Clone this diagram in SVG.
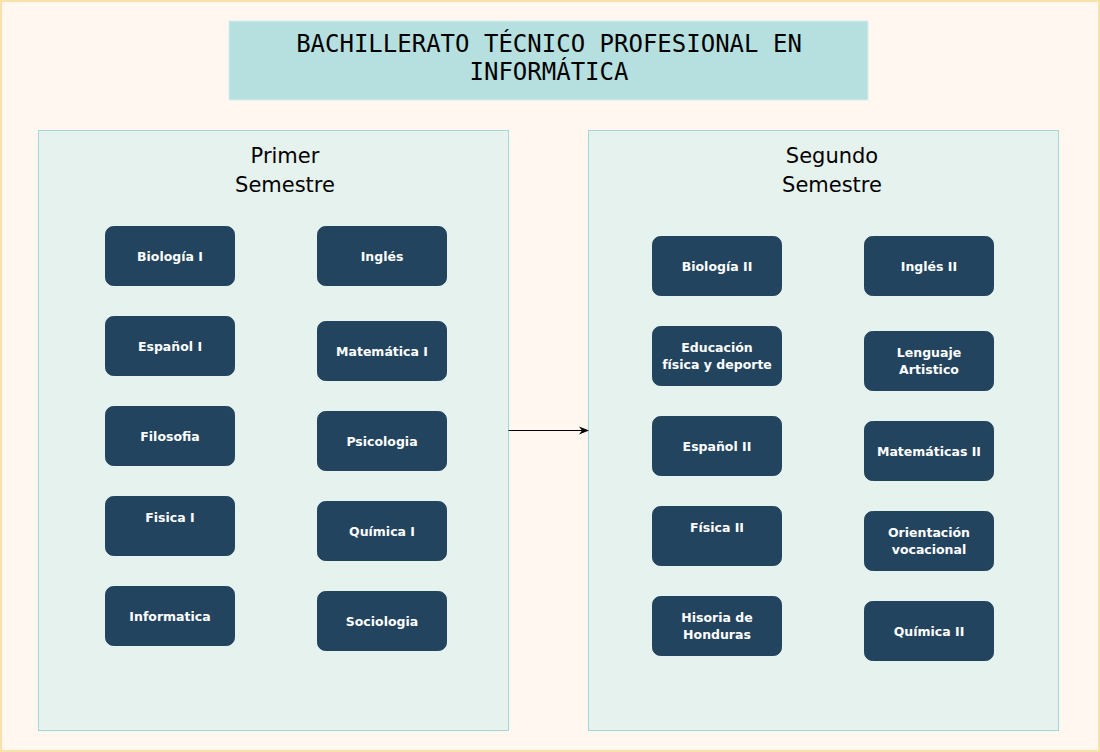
<svg xmlns="http://www.w3.org/2000/svg" width="1100" height="752" viewBox="0 0 1100 752">
<defs>
<style>
.bg{fill:#FFF7F0;stroke:#F9E2A8;stroke-width:2}
.title{fill:#B6E0DF;stroke:#D6EEEC;stroke-width:1}
.ttl{font-family:"DejaVu Sans Mono",monospace;font-size:24px;fill:#000;text-anchor:middle}
.panel{fill:#E6F2EE;stroke:#A8D5D5;stroke-width:1}
.ph{font-family:"DejaVu Sans","Noto Sans",sans-serif;font-size:21px;fill:#000;text-anchor:middle}
.node rect{fill:#23445E;stroke:#23445E}
.node text{font-family:"DejaVu Sans","Noto Sans",sans-serif;font-size:12.5px;font-weight:bold;fill:#fff;text-anchor:middle}
</style>
<marker id="arr" viewBox="0 0 10 10" refX="9" refY="5" markerWidth="10" markerHeight="10" orient="auto" markerUnits="userSpaceOnUse">
<path d="M0,1 L10,5 L0,9 L3,5 Z" fill="#000"/>
</marker>
</defs>
<rect class="bg" x="1" y="1" width="1098" height="750"/>
<g id="title">
<rect class="title" x="229" y="21" width="639" height="79"/>
<text class="ttl" x="549" y="52">BACHILLERATO TÉCNICO PROFESIONAL EN</text>
<text class="ttl" x="549" y="80">INFORMÁTICA</text>
</g>
<g id="panel1">
<rect class="panel" x="38.5" y="130.5" width="470" height="600"/>
<text class="ph" x="285" y="163">Primer</text>
<text class="ph" x="285" y="192">Semestre</text>
</g>
<g id="panel2">
<rect class="panel" x="588.5" y="130.5" width="470" height="600"/>
<text class="ph" x="832" y="163">Segundo</text>
<text class="ph" x="832" y="192">Semestre</text>
</g>
<g id="connectors">
<line x1="508.5" y1="430.5" x2="588" y2="430.5" stroke="#000" stroke-width="1" marker-end="url(#arr)"/>
</g>
<g id="n-biologia1" class="node"><rect x="105.5" y="226.5" width="129" height="59" rx="8"/><text x="170" y="261">Biología I</text></g>
<g id="n-espanol1" class="node"><rect x="105.5" y="316.5" width="129" height="59" rx="8"/><text x="170" y="351">Español I</text></g>
<g id="n-filosofia" class="node"><rect x="105.5" y="406.5" width="129" height="59" rx="8"/><text x="170" y="441">Filosofia</text></g>
<g id="n-fisica1" class="node"><rect x="105.5" y="496.5" width="129" height="59" rx="8"/><text x="170" y="522">Fisica I</text></g>
<g id="n-informatica" class="node"><rect x="105.5" y="586.5" width="129" height="59" rx="8"/><text x="170" y="621">Informatica</text></g>
<g id="n-ingles" class="node"><rect x="317.5" y="226.5" width="129" height="59" rx="8"/><text x="382" y="261">Inglés</text></g>
<g id="n-matematica1" class="node"><rect x="317.5" y="321.5" width="129" height="59" rx="8"/><text x="382" y="356">Matemática I</text></g>
<g id="n-psicologia" class="node"><rect x="317.5" y="411.5" width="129" height="59" rx="8"/><text x="382" y="446">Psicologia</text></g>
<g id="n-quimica1" class="node"><rect x="317.5" y="501.5" width="129" height="59" rx="8"/><text x="382" y="536">Química I</text></g>
<g id="n-sociologia" class="node"><rect x="317.5" y="591.5" width="129" height="59" rx="8"/><text x="382" y="626">Sociologia</text></g>
<g id="n-biologia2" class="node"><rect x="652.5" y="236.5" width="129" height="59" rx="8"/><text x="717" y="271">Biología II</text></g>
<g id="n-educacion" class="node"><rect x="652.5" y="326.5" width="129" height="59" rx="8"/><text x="717" y="352">Educación</text><text x="717" y="369">física y deporte</text></g>
<g id="n-espanol2" class="node"><rect x="652.5" y="416.5" width="129" height="59" rx="8"/><text x="717" y="451">Español II</text></g>
<g id="n-fisica2" class="node"><rect x="652.5" y="506.5" width="129" height="59" rx="8"/><text x="717" y="532">Física II</text></g>
<g id="n-historia" class="node"><rect x="652.5" y="596.5" width="129" height="59" rx="8"/><text x="717" y="622">Hisoria de</text><text x="717" y="639">Honduras</text></g>
<g id="n-ingles2" class="node"><rect x="864.5" y="236.5" width="129" height="59" rx="8"/><text x="929" y="271">Inglés II</text></g>
<g id="n-lenguaje" class="node"><rect x="864.5" y="331.5" width="129" height="59" rx="8"/><text x="929" y="357">Lenguaje</text><text x="929" y="374">Artistico</text></g>
<g id="n-matematicas2" class="node"><rect x="864.5" y="421.5" width="129" height="59" rx="8"/><text x="929" y="456">Matemáticas II</text></g>
<g id="n-orientacion" class="node"><rect x="864.5" y="511.5" width="129" height="59" rx="8"/><text x="929" y="537">Orientación</text><text x="929" y="554">vocacional</text></g>
<g id="n-quimica2" class="node"><rect x="864.5" y="601.5" width="129" height="59" rx="8"/><text x="929" y="636">Química II</text></g>
</svg>
